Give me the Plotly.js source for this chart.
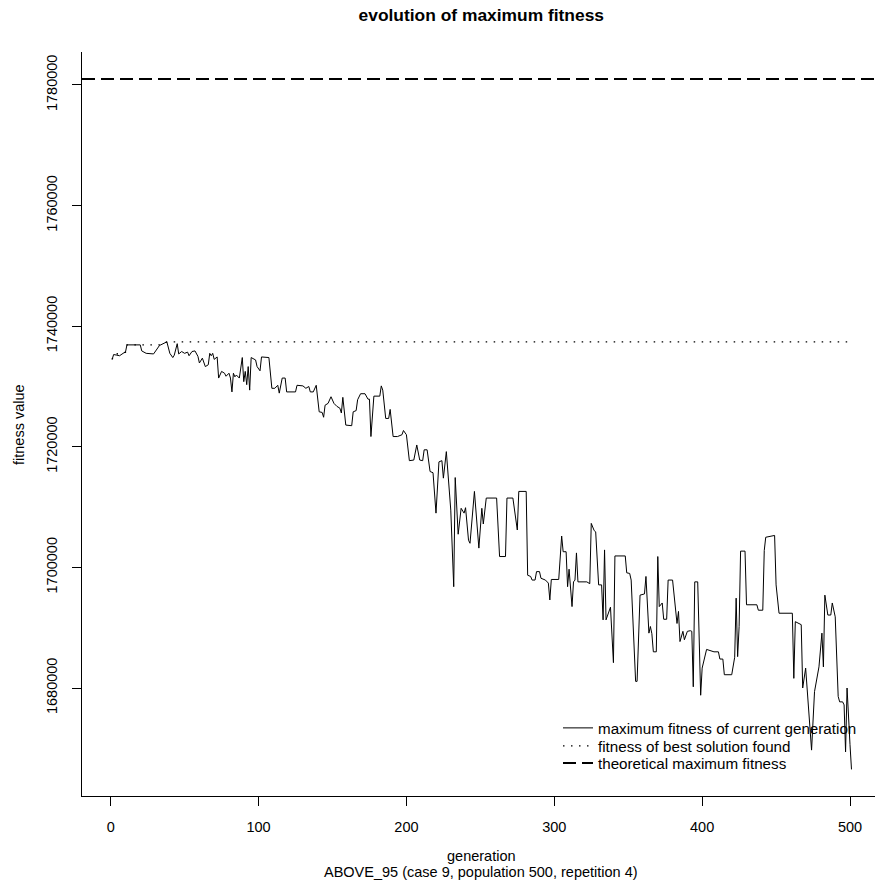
<!DOCTYPE html>
<html>
<head>
<meta charset="utf-8">
<script src="https://cdn.plot.ly/plotly-3.0.1.min.js"></script>
<style>
  html, body { margin: 0; padding: 0; background: #ffffff; }
  #chart { width: 875px; height: 893px; }
</style>
</head>
<body>
<div id="chart"></div>
<script>
// ---- data ----
const generation = [
  1, 2, 4, 6, 9, 10, 11, 20, 21, 24, 29, 31, 33, 38, 40, 42, 43, 45, 46, 48,
  50, 52, 53, 55, 57, 59, 60, 62, 64, 66, 67, 68, 69, 70, 72, 73, 75, 77, 78, 80,
  81, 82, 83, 84, 85, 87, 89, 90, 91, 92, 93, 94, 95, 98, 99, 101, 102, 107, 109, 111,
  113, 114, 116, 118, 119, 125, 126, 130, 132, 134, 135, 137, 139, 141, 143, 144, 145, 147, 149, 151,
  153, 155, 156, 157, 158, 159, 163, 164, 166, 167, 169, 172, 174, 175, 176, 178, 182, 183, 184, 186,
  188, 189, 191, 194, 197, 198, 200, 202, 205, 207, 209, 211, 212, 214, 216, 218, 220, 222, 224, 225,
  227, 230, 232, 233, 235, 237, 239, 240, 242, 243, 246, 249, 251, 252, 254, 261, 263, 267, 268, 272,
  275, 276, 281, 282, 284, 285, 287, 288, 290, 291, 294, 296, 297, 298, 303, 305, 306, 308, 309, 310,
  312, 313, 314, 315, 316, 318, 320, 322, 324, 325, 327, 328, 330, 332, 333, 334, 335, 338, 340, 341,
  348, 349, 351, 352, 355, 356, 358, 361, 362, 364, 365, 366, 367, 369, 370, 371, 373, 374, 376, 377,
  380, 382, 383, 384, 385, 387, 388, 390, 392, 393, 394, 395, 397, 399, 400, 403, 408, 411, 412, 414,
  415, 420, 422, 423, 424, 425, 426, 429, 430, 437, 438, 441, 442, 443, 449, 450, 452, 461, 462, 463,
  467, 468, 470, 474, 476, 479, 481, 482, 483, 485, 487, 488, 490, 492, 493, 495, 496, 497, 498, 500,
  501
];
const maxFitness = [
  1734500, 1735300, 1735200, 1735100, 1735600, 1735700, 1736900, 1736900, 1735900, 1735500,
  1735400, 1736100, 1736800, 1737400, 1735500, 1734800, 1735200, 1737100, 1735400, 1735800,
  1735500, 1735700, 1735100, 1735800, 1735900, 1735000, 1733900, 1734700, 1733300, 1733600,
  1735500, 1735100, 1735500, 1734500, 1734900, 1731400, 1732500, 1732200, 1731700, 1732200,
  1731400, 1729100, 1732200, 1731600, 1731900, 1731400, 1734800, 1730800, 1732500, 1730300,
  1733300, 1729400, 1734800, 1734400, 1733300, 1732600, 1734900, 1734800, 1729700, 1729700,
  1730200, 1728900, 1731400, 1731400, 1729100, 1729100, 1730200, 1730100, 1729700, 1730000,
  1729100, 1729100, 1730200, 1725800, 1725700, 1724900, 1726900, 1727200, 1728300, 1727200,
  1726700, 1726400, 1725600, 1728200, 1725800, 1723600, 1723500, 1725800, 1726000, 1727800,
  1728800, 1728800, 1727900, 1727900, 1721700, 1728400, 1728400, 1730100, 1729400, 1724700,
  1724700, 1726200, 1721700, 1721700, 1722000, 1722700, 1722000, 1717700, 1717800, 1720300,
  1717800, 1717700, 1719500, 1719500, 1715900, 1715700, 1709000, 1717500, 1717700, 1714800,
  1719200, 1709500, 1696800, 1714900, 1705500, 1709800, 1709000, 1709900, 1704500, 1704000,
  1712600, 1703200, 1709800, 1707200, 1711500, 1711500, 1701800, 1701800, 1711500, 1711500,
  1706200, 1712600, 1712600, 1698700, 1698500, 1697900, 1697900, 1699300, 1699300, 1698200,
  1697900, 1697400, 1694600, 1698000, 1698000, 1705200, 1702600, 1702600, 1696800, 1699700,
  1693500, 1697600, 1697900, 1702400, 1697600, 1697600, 1697500, 1697600, 1697300, 1707300,
  1706100, 1705900, 1697100, 1697100, 1691300, 1702900, 1691300, 1693400, 1684200, 1701900,
  1701900, 1699100, 1699000, 1697900, 1681100, 1681100, 1695400, 1695600, 1698500, 1689100,
  1690200, 1689000, 1686000, 1686000, 1701800, 1693500, 1694100, 1691400, 1691400, 1697900,
  1697900, 1692700, 1690700, 1692700, 1687700, 1689400, 1688000, 1689400, 1689500, 1689400,
  1680200, 1697600, 1697600, 1678800, 1683300, 1686400, 1686000, 1686000, 1684800, 1684800,
  1682200, 1682200, 1685100, 1694900, 1685200, 1690200, 1702700, 1702700, 1693800, 1693800,
  1692900, 1692900, 1702800, 1705000, 1705300, 1697100, 1692400, 1692400, 1681600, 1691000,
  1690500, 1680000, 1683300, 1669700, 1679400, 1683500, 1689100, 1683500, 1695400, 1692100,
  1692100, 1694100, 1691800, 1678600, 1677700, 1677700, 1677200, 1669400, 1680000, 1670600,
  1666500
];
const bestGeneration = [1, 2, 9, 10, 11, 34, 38, 501];
const bestFitness = [1734500, 1735300, 1735600, 1735700, 1736900, 1736900, 1737400, 1737400];
const theoreticalMax = 1781000;

const xTicks = [0, 100, 200, 300, 400, 500];
const yTicks = [1680000, 1700000, 1720000, 1740000, 1760000, 1780000];
const xRange = [-19.4, 516.9];
const yRange = [1662090, 1785470];

const seriesNames = [
  'maximum fitness of current generation',
  'fitness of best solution found',
  'theoretical maximum fitness'
];
const titleText = 'evolution of maximum fitness';
const xTitle = 'generation';
const subTitle = 'ABOVE_95 (case 9, population 500, repetition 4)';
const yTitle = 'fitness value';

// ---- drawing ----
const FONT = '"Liberation Sans", Arial, Helvetica, sans-serif';
const FS = 14.5;
const LFS = 15.2;

const traces = [
  {
    x: generation, y: maxFitness, type: 'scatter', mode: 'lines',
    name: seriesNames[0], legend: 'legend',
    line: { color: '#000000', width: 1 }
  },
  {
    x: bestGeneration, y: bestFitness, type: 'scatter', mode: 'lines',
    name: seriesNames[1], legend: 'legend2',
    line: { color: '#000000', width: 1.4, dash: '1.5px,6.5px' }
  },
  {
    x: xRange, y: [theoreticalMax, theoreticalMax], type: 'scatter', mode: 'lines',
    name: seriesNames[2], legend: 'legend3',
    line: { color: '#000000', width: 2, dash: '13px,6px' }
  }
];

function legendAt(rowY) {
  return {
    x: (558 - 82) / 793, xanchor: 'left',
    y: (796 - rowY) / 744, yanchor: 'middle',
    bgcolor: 'rgba(0,0,0,0)', borderwidth: 0,
    font: { family: FONT, size: LFS, color: '#000000' }
  };
}

const layout = {
  width: 875, height: 893,
  margin: { l: 82, r: 0, t: 52, b: 97, pad: 0 },
  paper_bgcolor: '#ffffff', plot_bgcolor: '#ffffff',
  font: { family: FONT, size: FS, color: '#000000' },
  title: {
    text: titleText,
    font: { family: FONT, size: 17.4, weight: 'bold', color: '#000000' },
    x: 0.5035, xref: 'paper', xanchor: 'center',
    y: 1 - 15 / 893, yref: 'container', yanchor: 'middle'
  },
  xaxis: {
    range: xRange, tickvals: xTicks, ticktext: xTicks.map(String),
    showgrid: false, zeroline: false,
    showline: true, linecolor: '#000000', linewidth: 1,
    ticks: 'outside', ticklen: 9, tickwidth: 1, tickcolor: '#000000',
    ticklabelstandoff: 9,
    tickfont: { family: FONT, size: FS, color: '#000000' }
  },
  yaxis: {
    range: yRange, tickvals: yTicks, ticktext: yTicks.map(String),
    showgrid: false, zeroline: false,
    showline: true, linecolor: '#000000', linewidth: 1,
    ticks: 'outside', ticklen: 9, tickwidth: 1, tickcolor: '#000000',
    tickangle: -90, ticklabelstandoff: 9,
    tickfont: { family: FONT, size: FS, color: '#000000' }
  },
  showlegend: true,
  legend: legendAt(728),
  legend2: legendAt(746),
  legend3: legendAt(763),
  annotations: [
    {
      text: xTitle, xref: 'paper', yref: 'paper',
      x: 0.5035, y: (796 - 856) / 744, xanchor: 'center', yanchor: 'middle',
      showarrow: false, font: { family: FONT, size: FS, color: '#000000' }
    },
    {
      text: subTitle, xref: 'paper', yref: 'paper',
      x: 0.5035, y: (796 - 872) / 744, xanchor: 'center', yanchor: 'middle',
      showarrow: false, font: { family: FONT, size: FS, color: '#000000' }
    },
    {
      text: yTitle, xref: 'paper', yref: 'paper',
      x: (19 - 82) / 793, y: 0.5, xanchor: 'center', yanchor: 'middle',
      textangle: -90,
      showarrow: false, font: { family: FONT, size: FS, color: '#000000' }
    }
  ]
};

Plotly.newPlot('chart', traces, layout, { displayModeBar: false, staticPlot: true });
</script>
</body>
</html>
